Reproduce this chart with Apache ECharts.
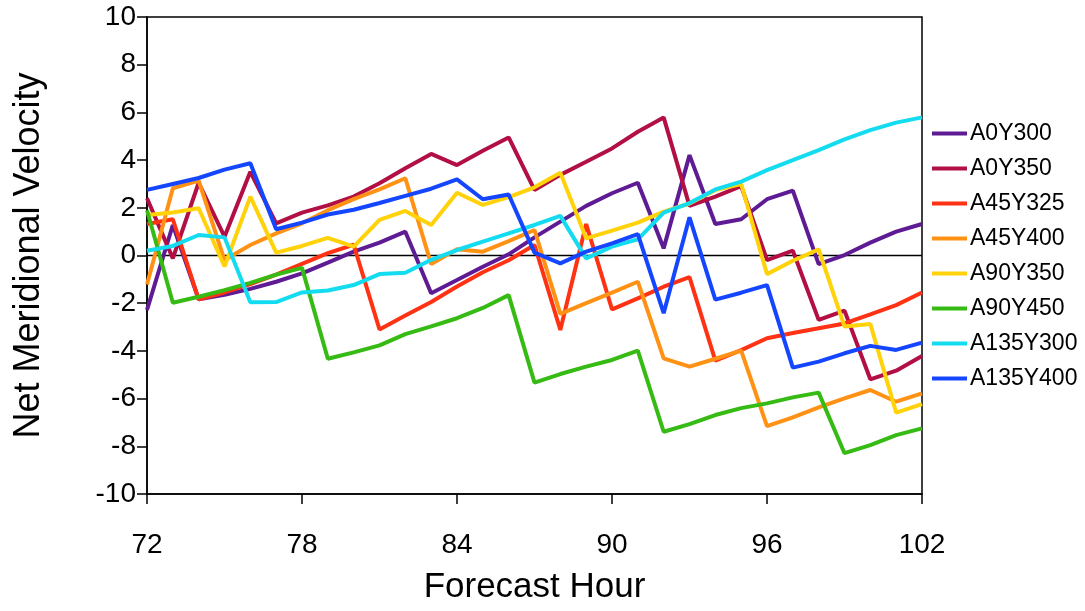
<!DOCTYPE html>
<html>
<head>
<meta charset="utf-8">
<script src="https://cdn.jsdelivr.net/npm/echarts@6/dist/echarts.min.js"></script>
<style>
  html, body { margin: 0; padding: 0; background: #fff; }
  #chart { width: 1085px; height: 611px; }
</style>
</head>
<body>
<div id="chart"></div>
<script>
// Forecast hours 72..102, one sample per hour
const hours = [72,73,74,75,76,77,78,79,80,81,82,83,84,85,86,87,88,89,90,91,92,93,94,95,96,97,98,99,100,101,102];

const A0Y300   = [-2.28,1.28,-1.84,-1.65,-1.4,-1.1,-0.75,-0.3,0.16,0.54,1.0,-1.58,-1.03,-0.47,0.05,0.76,1.42,2.08,2.61,3.05,0.30,4.21,1.32,1.52,2.36,2.72,-0.36,0.02,0.54,1.0,1.32];
const A0Y350   = [2.4,-0.12,3.05,0.79,3.51,1.35,1.8,2.1,2.47,3.03,3.66,4.26,3.79,4.39,4.95,2.75,3.38,3.93,4.49,5.19,5.79,2.08,2.47,2.91,-0.19,0.2,-2.7,-2.31,-5.19,-4.83,-4.21];
const A45Y325  = [1.32,1.52,-1.84,-1.55,-1.2,-0.8,-0.35,0.1,0.45,-3.1,-2.52,-1.95,-1.3,-0.7,-0.2,0.44,-3.12,1.32,-2.26,-1.8,-1.31,-0.91,-4.41,-3.97,-3.47,-3.25,-3.05,-2.85,-2.47,-2.08,-1.55];
const A45Y400  = [-1.22,2.82,3.14,-0.19,0.44,0.93,1.35,1.9,2.36,2.77,3.24,-0.36,0.26,0.16,0.6,1.07,-2.45,-2.0,-1.56,-1.1,-4.31,-4.66,-4.33,-3.99,-7.15,-6.79,-6.37,-5.99,-5.64,-6.13,-5.78];
const A90Y350  = [1.70,1.80,1.98,-0.46,2.47,0.12,0.40,0.74,0.37,1.49,1.87,1.28,2.63,2.12,2.45,2.86,3.47,0.72,1.04,1.38,1.84,2.18,2.74,3.0,-0.78,-0.22,0.26,-2.98,-2.87,-6.59,-6.23];
const A90Y450  = [1.9,-1.98,-1.73,-1.45,-1.15,-0.8,-0.52,-4.33,-4.06,-3.77,-3.3,-2.97,-2.63,-2.2,-1.66,-5.33,-4.97,-4.66,-4.38,-3.99,-7.39,-7.07,-6.69,-6.4,-6.2,-5.95,-5.75,-8.29,-7.95,-7.53,-7.25];
const A135Y300 = [0.2,0.4,0.86,0.76,-1.96,-1.95,-1.55,-1.47,-1.24,-0.78,-0.72,-0.18,0.23,0.58,0.93,1.28,1.66,-0.12,0.37,0.68,1.80,2.2,2.77,3.1,3.58,4.0,4.42,4.87,5.26,5.57,5.79];
const A135Y400 = [2.75,3.0,3.25,3.6,3.87,1.1,1.38,1.72,1.92,2.2,2.5,2.8,3.19,2.36,2.56,0.12,-0.33,0.16,0.51,0.9,-2.42,1.6,-1.85,-1.56,-1.24,-4.70,-4.45,-4.1,-3.79,-3.96,-3.65];

const seriesNames = ['A0Y300','A0Y350','A45Y325','A45Y400','A90Y350','A90Y450','A135Y300','A135Y400'];
const seriesValues = [A0Y300, A0Y350, A45Y325, A45Y400, A90Y350, A90Y450, A135Y300, A135Y400];
const seriesColors = ['#5f1b94','#b20f45','#ff3214','#ff9214','#ffd20a','#36bb14','#14dcf0','#1446ff'];

const font = 'Liberation Sans, Arial, Helvetica, sans-serif';

const series = seriesNames.map((name, i) => ({
  name: name,
  type: 'line',
  data: hours.map((h, k) => [h, seriesValues[i][k]]),
  showSymbol: false,
  symbol: 'none',
  lineStyle: { color: seriesColors[i], width: 4 },
  itemStyle: { color: seriesColors[i] },
  animation: false,
  z: 3
}));

// zero reference line
series.unshift({
  name: 'zero',
  type: 'line',
  data: [[72, 0], [102, 0]],
  symbol: 'none',
  lineStyle: { color: '#000', width: 1.5 },
  animation: false,
  silent: true,
  z: 2
});

const chart = echarts.init(document.getElementById('chart'), null, { renderer: 'canvas' });
chart.setOption({
  backgroundColor: '#fff',
  animation: false,
  grid: {
    left: 147, right: 163, top: 17, bottom: 117,
    show: true, borderColor: '#000', borderWidth: 1.5, backgroundColor: 'transparent'
  },
  legend: {
    data: seriesNames,
    orient: 'vertical',
    left: 927,
    top: 117,
    itemWidth: 35,
    itemHeight: 4,
    itemGap: 12,
    icon: 'rect',
    textStyle: { fontFamily: font, fontSize: 23, color: '#000', padding: [0, 0, 0, -2] }
  },
  xAxis: {
    type: 'value',
    min: 72, max: 102, interval: 6,
    name: 'Forecast Hour',
    nameLocation: 'middle',
    nameGap: 76,
    nameTextStyle: { fontFamily: font, fontSize: 35, color: '#000' },
    axisLine: { show: true, onZero: false, lineStyle: { color: '#000', width: 1.5 } },
    axisTick: { show: true, inside: false, length: 10, lineStyle: { color: '#000', width: 1.5 } },
    axisLabel: { fontFamily: font, fontSize: 28, color: '#000', margin: 37 },
    splitLine: { show: false }
  },
  yAxis: {
    type: 'value',
    min: -10, max: 10, interval: 2,
    name: 'Net Meridional Velocity',
    nameLocation: 'middle',
    nameGap: 100,
    nameRotate: 90,
    nameTextStyle: { fontFamily: font, fontSize: 36, color: '#000' },
    axisLine: { show: true, onZero: false, lineStyle: { color: '#000', width: 1.5 } },
    axisTick: { show: true, inside: false, length: 10, lineStyle: { color: '#000', width: 1.5 } },
    axisLabel: { fontFamily: font, fontSize: 28, color: '#000', margin: 11 },
    splitLine: { show: false }
  },
  series: series
});
</script>
</body>
</html>
